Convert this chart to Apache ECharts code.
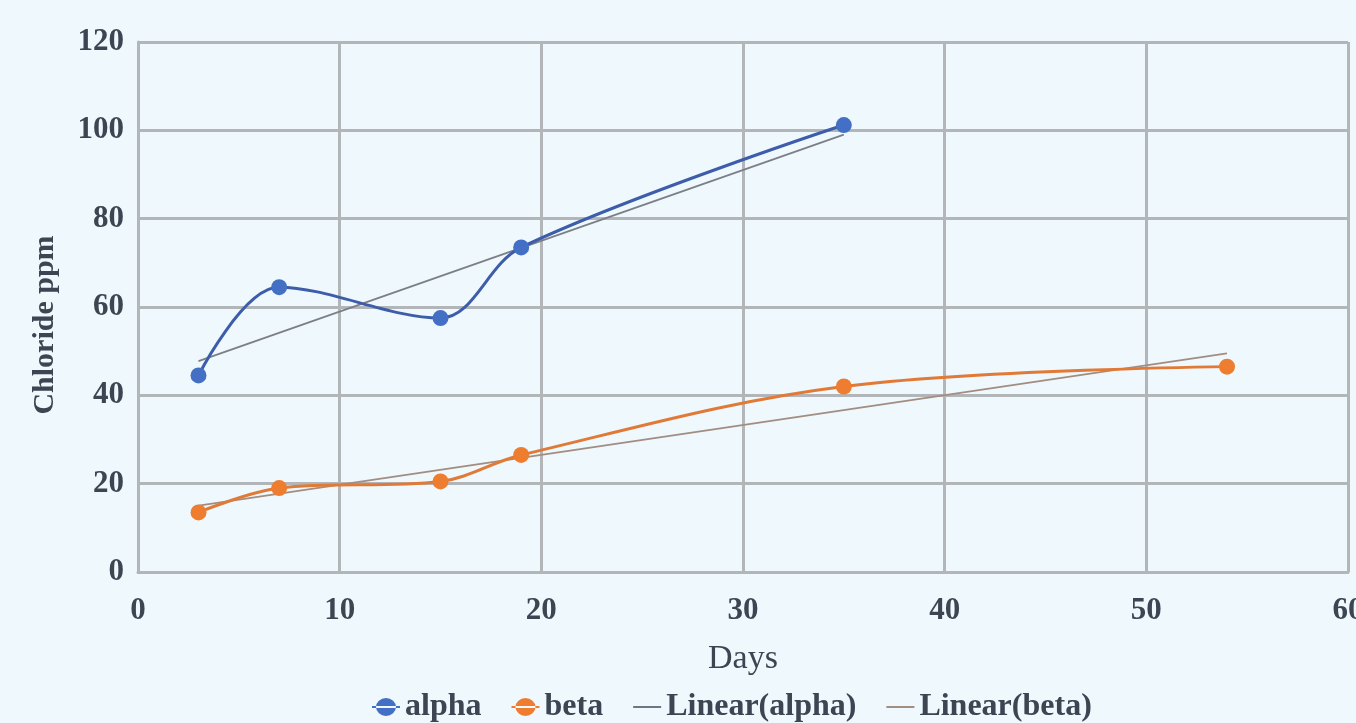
<!DOCTYPE html>
<html>
<head>
<meta charset="utf-8">
<script src="https://cdn.jsdelivr.net/npm/echarts@6/dist/echarts.min.js"></script>
<style>
  html, body { margin: 0; padding: 0; background: #eef8fd; overflow: hidden; }
  #chart { width: 1356px; height: 723px; }
</style>
</head>
<body>
<div id="chart"></div>
<script>
// Sampling days and measured chloride (ppm)
const alphaDays = [3, 7, 15, 19, 35];
const alphaPpm  = [44.5, 64.5, 57.5, 73.5, 101.2];
const betaDays  = [3, 7, 15, 19, 35, 54];
const betaPpm   = [13.5, 19, 20.5, 26.5, 42, 46.5];
const seriesNames = ['alpha', 'beta', 'Linear(alpha)', 'Linear(beta)'];

// Least-squares trendline across the sampled range
function linearFit(xs, ys) {
  const n = xs.length;
  const mx = xs.reduce((a, b) => a + b, 0) / n;
  const my = ys.reduce((a, b) => a + b, 0) / n;
  let sxx = 0, sxy = 0;
  for (let i = 0; i < n; i++) {
    sxx += (xs[i] - mx) * (xs[i] - mx);
    sxy += (xs[i] - mx) * (ys[i] - my);
  }
  const k = sxy / sxx, b = my - k * mx;
  const x0 = Math.min(...xs), x1 = Math.max(...xs);
  return [[x0, k * x0 + b], [x1, k * x1 + b]];
}
const zip = (xs, ys) => xs.map((x, i) => [x, ys[i]]);

const textColor = '#3d4452';
const gridColor = '#b3b6b9';
const serif = '"Liberation Serif", "DejaVu Serif", serif';

// legend glyphs: marker with a short line through it, and a plain line
const markerIcon = 'path://M0,8 L28,8 L28,10 L0,10 Z M4,9 A10,9 0 1,0 24,9 A10,9 0 1,0 4,9 Z';
const lineIcon = 'path://M0,8 L28,8 L28,10 L0,10 Z';

const chart = echarts.init(document.getElementById('chart'), null, { renderer: 'canvas' });
chart.setOption({
  backgroundColor: '#eef8fd',
  animation: false,
  grid: { left: 138, right: 8, top: 42, bottom: 151, containLabel: false, outerBoundsMode: 'none' },
  xAxis: {
    type: 'value', min: 0, max: 60, interval: 10,
    name: 'Days', nameLocation: 'middle', nameGap: 70,
    nameTextStyle: { fontFamily: serif, fontSize: 34, color: textColor },
    axisLine: { show: true, lineStyle: { color: gridColor, width: 3 } },
    axisTick: { show: false },
    axisLabel: { fontFamily: serif, fontWeight: 'bold', fontSize: 31, color: textColor, margin: 23 },
    splitLine: { show: true, lineStyle: { color: gridColor, width: 3 } }
  },
  yAxis: {
    type: 'value', min: 0, max: 120, interval: 20,
    axisLine: { show: true, lineStyle: { color: gridColor, width: 3 } },
    axisTick: { show: false },
    axisLabel: { fontFamily: serif, fontWeight: 'bold', fontSize: 31, color: textColor, margin: 14 },
    splitLine: { show: true, lineStyle: { color: gridColor, width: 3 } }
  },
  graphic: [{
    type: 'text', x: 45, y: 325, rotation: Math.PI / 2,
    style: {
      text: 'Chloride ppm', fontFamily: serif, fontWeight: 'bold', fontSize: 30,
      fill: textColor, align: 'center', verticalAlign: 'middle'
    }
  }],
  legend: {
    top: 691, left: 372, padding: 0, itemGap: 30, itemWidth: 28, itemHeight: 18,
    textStyle: { fontFamily: serif, fontWeight: 'bold', fontSize: 32, color: textColor },
    data: [
      { name: seriesNames[0], icon: markerIcon },
      { name: seriesNames[1], icon: markerIcon },
      { name: seriesNames[2], icon: lineIcon },
      { name: seriesNames[3], icon: lineIcon }
    ]
  },
  series: [
    {
      name: seriesNames[2], type: 'line', data: linearFit(alphaDays, alphaPpm),
      symbol: 'none', z: 3,
      lineStyle: { color: '#7c7f86', width: 1.8 }, itemStyle: { color: '#6f7584' }
    },
    {
      name: seriesNames[3], type: 'line', data: linearFit(betaDays, betaPpm),
      symbol: 'none', z: 3,
      lineStyle: { color: '#a38d80', width: 1.8 }, itemStyle: { color: '#a38d80' }
    },
    {
      name: seriesNames[0], type: 'line', data: zip(alphaDays, alphaPpm),
      smooth: 0.35, symbol: 'circle', symbolSize: 16, z: 4,
      lineStyle: { color: '#3d5dab', width: 3 },
      itemStyle: { color: '#4370c4' }
    },
    {
      name: seriesNames[1], type: 'line', data: zip(betaDays, betaPpm),
      smooth: 0.35, symbol: 'circle', symbolSize: 16, z: 4,
      lineStyle: { color: '#e07a36', width: 3 },
      itemStyle: { color: '#ee7d30' }
    }
  ]
});
</script>
</body>
</html>
